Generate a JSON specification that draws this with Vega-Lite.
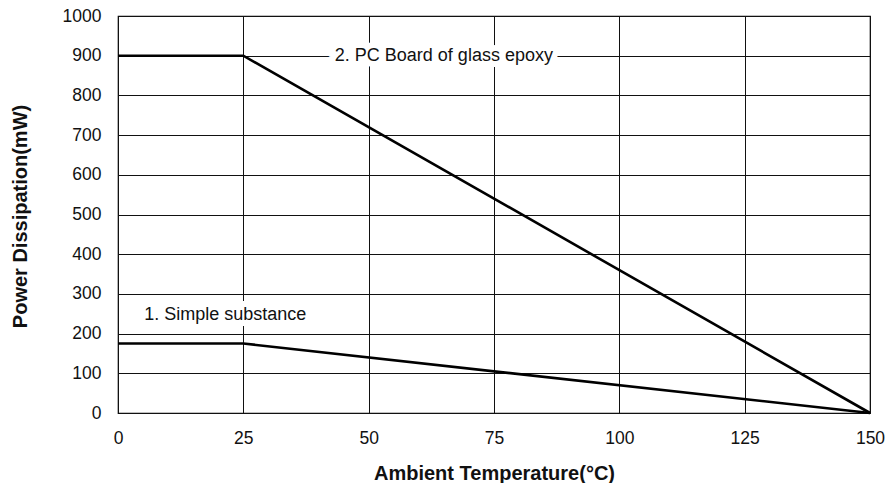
{
  "$schema": "https://vega.github.io/schema/vega-lite/v6.json",
  "width": 752,
  "height": 397,
  "autosize": {"type": "none"},
  "padding": {"left": 118, "top": 16, "right": 17, "bottom": 70},
  "background": "white",
  "config": {
    "font": "Liberation Sans",
    "view": {"stroke": "#000000", "strokeWidth": 1.2}
  },
  "datasets": {
    "curves": [
      {"temp": 0, "power": 175, "series": "1. Simple substance"},
      {"temp": 25, "power": 175, "series": "1. Simple substance"},
      {"temp": 150, "power": 0, "series": "1. Simple substance"},
      {"temp": 0, "power": 900, "series": "2. PC Board of glass epoxy"},
      {"temp": 25, "power": 900, "series": "2. PC Board of glass epoxy"},
      {"temp": 150, "power": 0, "series": "2. PC Board of glass epoxy"}
    ],
    "labels": [
      {"temp": 21.4, "power": 247, "label": "1. Simple substance"},
      {"temp": 65.0, "power": 900, "label": "2. PC Board of glass epoxy"}
    ]
  },
  "encoding": {
    "x": {
      "field": "temp",
      "type": "quantitative",
      "scale": {"domain": [0, 150], "nice": false},
      "axis": {
        "values": [0, 25, 50, 75, 100, 125, 150],
        "format": "d",
        "grid": true, "gridColor": "#111111", "gridOpacity": 1, "gridWidth": 1,
        "domain": false, "ticks": false,
        "labelFlush": false, "labelOverlap": false,
        "labelFont": "Liberation Sans", "labelFontSize": 17.5, "labelColor": "#111111",
        "labelPadding": 16,
        "title": "Ambient Temperature(°C)",
        "titleFont": "Liberation Sans", "titleFontSize": 20, "titleFontWeight": "bold", "titleColor": "#111111",
        "titleY": 60, "titleBaseline": "middle"
      }
    },
    "y": {
      "field": "power",
      "type": "quantitative",
      "scale": {"domain": [0, 1000], "nice": false},
      "axis": {
        "values": [0, 100, 200, 300, 400, 500, 600, 700, 800, 900, 1000],
        "format": "d",
        "grid": true, "gridColor": "#111111", "gridOpacity": 1, "gridWidth": 1,
        "domain": false, "ticks": false,
        "labelFlush": false, "labelOverlap": false,
        "labelFont": "Liberation Sans", "labelFontSize": 17.5, "labelColor": "#111111",
        "labelPadding": 17,
        "title": "Power Dissipation(mW)",
        "titleFont": "Liberation Sans", "titleFontSize": 20, "titleFontWeight": "bold", "titleColor": "#111111",
        "titleX": -98, "titleY": 200, "titleBaseline": "middle"
      }
    }
  },
  "layer": [
    {
      "data": {"name": "curves"},
      "mark": {"type": "line", "color": "#000000", "strokeWidth": 2.6},
      "encoding": {
        "detail": {"field": "series"}
      }
    },
    {
      "data": {"name": "labels"},
      "mark": {"type": "text", "fontSize": 18, "font": "Liberation Sans", "stroke": "#ffffff", "strokeWidth": 12, "strokeOpacity": 1, "fill": "#ffffff", "align": "center", "baseline": "middle"},
      "encoding": {
        "text": {"field": "label"}
      }
    },
    {
      "data": {"name": "labels"},
      "mark": {"type": "text", "fontSize": 18, "font": "Liberation Sans", "fill": "#111111", "align": "center", "baseline": "middle"},
      "encoding": {
        "text": {"field": "label"}
      }
    }
  ]
}
